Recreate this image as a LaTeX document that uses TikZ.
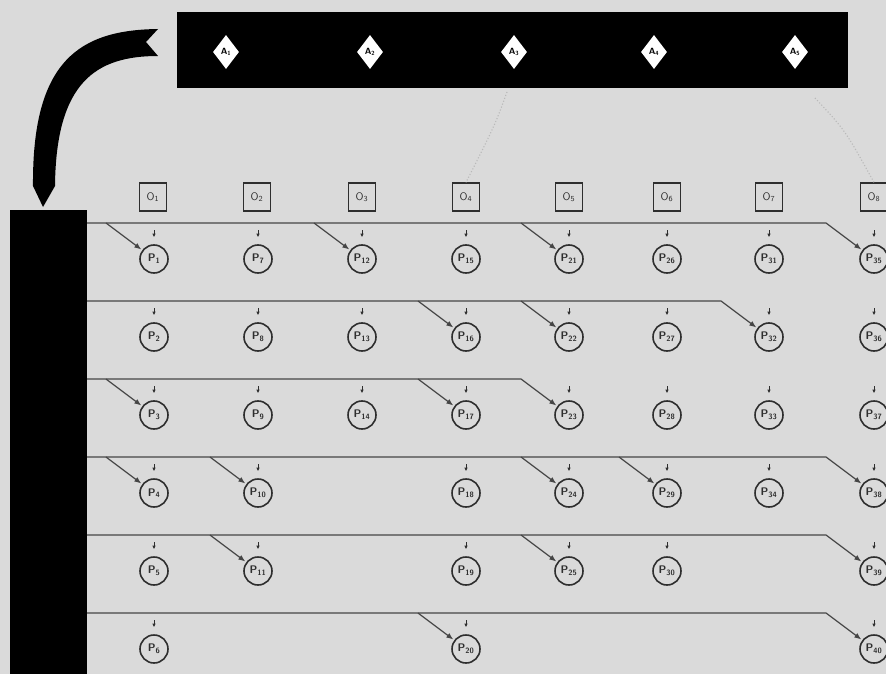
\documentclass[tikz,border=0pt]{standalone}
\usetikzlibrary{shapes.geometric,arrows.meta,calc}
\definecolor{bgc}{HTML}{DADADA}
\definecolor{lnc}{HTML}{454545}
\definecolor{circ}{HTML}{2E2E2E}
\begin{document}
\begin{tikzpicture}[x=1pt,y=-1pt,
  pnode/.style={circle,draw=circ,line width=1.6pt,minimum size=28pt,inner sep=0pt,
    font=\fontsize{11}{11}\selectfont\sffamily\bfseries,text=circ},
  onode/.style={rectangle,draw=circ,line width=1.2pt,minimum width=27pt,minimum height=28pt,inner sep=0pt,
    font=\fontsize{11}{11}\selectfont\sffamily,text=circ},
  anode/.style={diamond,fill=white,minimum width=26pt,minimum height=34pt,inner sep=0pt,
    font=\fontsize{9}{9}\selectfont\sffamily\bfseries,text=black},
  barbox/.style={fill=black,inner sep=0pt,anchor=north west},
  link/.style={draw=lnc,line width=1.2pt,line join=round,-{Latex[length=7pt,width=5.5pt]},shorten >=1pt},
  tickmark/.style={draw=circ,line width=0.8pt,-{Latex[length=3.5pt,width=3.5pt]}},
  faint/.style={draw=gray!55,dotted,line width=1.1pt}]
\useasboundingbox (0,0) rectangle (886,674);
\fill[bgc] (0,0) rectangle (886,674);

% bars
\node[barbox,minimum width=671pt,minimum height=76pt] (topbar) at (177,12) {};
\node[barbox,minimum width=77pt,minimum height=464pt] (leftbar) at (10,210) {};

% curved arrow
\fill[black] (158,29) .. controls (80,30) and (32,60) .. (33,186) -- (43,207) -- (55,186)
  .. controls (56,82) and (96,56) .. (158,56) -- (146,42) -- cycle;

% A diamonds
\foreach \i/\x in {1/226,2/370,3/514,4/654,5/795}
  \node[anode] (A\i) at (\x,52) {A\textsubscript{\i}};

% O boxes
\foreach \i/\x in {1/153,2/257,3/362,4/466,5/569,6/667,7/769,8/874}
  \node[onode] (O\i) at (\x,197) {O\textsubscript{\i}};

% faint dotted links
\draw[faint] (507,92) .. controls (495,125) .. (O4.north);
\draw[faint] (815,98) .. controls (845,130) .. (O8.north);

% P circles
\foreach \x/\first/\cnt in {154/1/6,258/7/5,362/12/3,466/15/6,569/21/5,667/26/5,769/31/4,874/35/6}{
  \foreach \r in {1,...,\cnt}{
    \pgfmathtruncatemacro\n{\first+\r-1}
    \pgfmathsetmacro\y{259+78*(\r-1)}
    \node[pnode] (P\n) at (\x,\y) {P\textsubscript{\n}};
    \draw[tickmark] ([yshift=14pt]P\n.north) -- ([yshift=7pt]P\n.north);
  }
}

% row lines
\foreach \r in {1,...,6}{
  \pgfmathsetmacro\ly{223+78*(\r-1)}
  \coordinate (L\r) at (87,\ly);
}
% row 1
\draw[link] (L1) -- ($(P35)+(-48,-36)$) -- (P35);
\foreach \n in {1,12,21} \draw[link] ($(P\n)+(-48,-36)$) -- (P\n);
% row 2
\draw[link] (L2) -- ($(P32)+(-48,-36)$) -- (P32);
\foreach \n in {16,22} \draw[link] ($(P\n)+(-48,-36)$) -- (P\n);
% row 3
\draw[link] (L3) -- ($(P23)+(-48,-36)$) -- (P23);
\foreach \n in {3,17} \draw[link] ($(P\n)+(-48,-36)$) -- (P\n);
% row 4
\draw[link] (L4) -- ($(P38)+(-48,-36)$) -- (P38);
\foreach \n in {4,10,24,29} \draw[link] ($(P\n)+(-48,-36)$) -- (P\n);
% row 5
\draw[link] (L5) -- ($(P39)+(-48,-36)$) -- (P39);
\foreach \n in {11,25} \draw[link] ($(P\n)+(-48,-36)$) -- (P\n);
% row 6
\draw[link] (L6) -- ($(P40)+(-48,-36)$) -- (P40);
\foreach \n in {20} \draw[link] ($(P\n)+(-48,-36)$) -- (P\n);
\end{tikzpicture}
\end{document}
